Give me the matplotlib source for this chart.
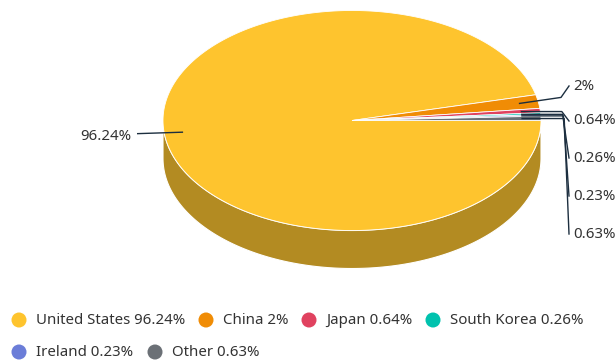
import numpy as np
import matplotlib
matplotlib.use("Agg")
import matplotlib.pyplot as plt
from matplotlib.patches import Polygon, Circle

plt.rcParams['font.family'] = ['Noto Sans', 'DejaVu Sans']

categories = ["United States", "China", "Japan", "South Korea", "Ireland", "Other"]
values = [96.24, 2, 0.64, 0.26, 0.23, 0.63]
labels = ["96.24%", "2%", "0.64%", "0.26%", "0.23%", "0.63%"]
colors = ["#FEC42E", "#F08C05", "#E0425F", "#00C2AE", "#6B7DD8", "#6B7076"]
side_colors = ["#B38B22", "#A86204", "#9D2E43", "#00887A", "#4B5897", "#4B4E53"]

W, H = 615, 360
fig = plt.figure(figsize=(W / 100, H / 100), dpi=100)
ax = fig.add_axes([0, 0, 1, 1])
ax.set_xlim(0, W)
ax.set_ylim(H, 0)
ax.axis('off')

cx, cy, rx, ry, depth = 352, 120.5, 189, 110, 38
text_color = "#333333"
line_color = "#1c2e3f"
fs = 10.8

total = sum(values)
fracs = np.array(values) / total
# screen angles (clockwise, y down), starting at east
starts = np.concatenate([[0], np.cumsum(fracs)[:-1]]) * 360
ends = np.cumsum(fracs) * 360


def ell(t_deg, dy=0.0, s=1.0):
    t = np.radians(t_deg)
    return cx + s * rx * np.cos(t), cy + s * ry * np.sin(t) + dy


# side faces (visible part: screen angles 0..180)
for a, b, sc in zip(starts, ends, side_colors):
    lo, hi = max(a, 0), min(b, 180)
    if hi <= lo:
        continue
    ts = np.linspace(lo, hi, 200)
    xt, yt = ell(ts)
    xb, yb = ell(ts[::-1], depth)
    pts = np.column_stack([np.concatenate([xt, xb]), np.concatenate([yt, yb])])
    ax.add_patch(Polygon(pts, closed=True, facecolor=sc, edgecolor="white",
                         linewidth=0.8, zorder=1))

# top faces
for a, b, c in zip(starts, ends, colors):
    ts = np.linspace(a, b, max(int((b - a) * 2), 4))
    xt, yt = ell(ts)
    pts = np.column_stack([np.concatenate([[cx], xt]), np.concatenate([[cy], yt])])
    ax.add_patch(Polygon(pts, closed=True, facecolor=c, edgecolor="white",
                         linewidth=0.6, zorder=2))

# data labels with connectors
label_x = 573
label_ys = [None, 86, 121, 158, 196, 234]
for i, (a, b, lab) in enumerate(zip(starts, ends, labels)):
    mid = (a + b) / 2
    px, py = ell(mid, s=0.9)
    if i == 0:
        ax.plot([px, 137], [py, py + 1.5], color=line_color, lw=1, zorder=3,
                solid_capstyle='butt')
        ax.text(131, 136, lab, ha='right', va='center', fontsize=fs, color=text_color)
    else:
        ly = label_ys[i]
        ex = 561 + (i - 1) * 0.8
        ey = py - (6 if i == 1 else 0)
        ax.plot([px, ex, label_x - 4], [py, ey, ly], color=line_color, lw=1,
                zorder=3, solid_joinstyle='round')
        ax.text(label_x, ly, lab, ha='left', va='center', fontsize=fs, color=text_color)

# legend
leg_pos = [(19, 320), (206, 320), (309, 320), (433, 320), (19, 352), (155, 352)]
for (lx, ly), cat, v, c in zip(leg_pos, categories, values, colors):
    ax.add_patch(Circle((lx, ly), 7.5, facecolor=c, edgecolor='none', zorder=3))
    ax.text(lx + 17, ly, f"{cat} {v:g}%", ha='left', va='center', fontsize=fs,
            color=text_color)

fig.savefig("out.png", dpi=100)
